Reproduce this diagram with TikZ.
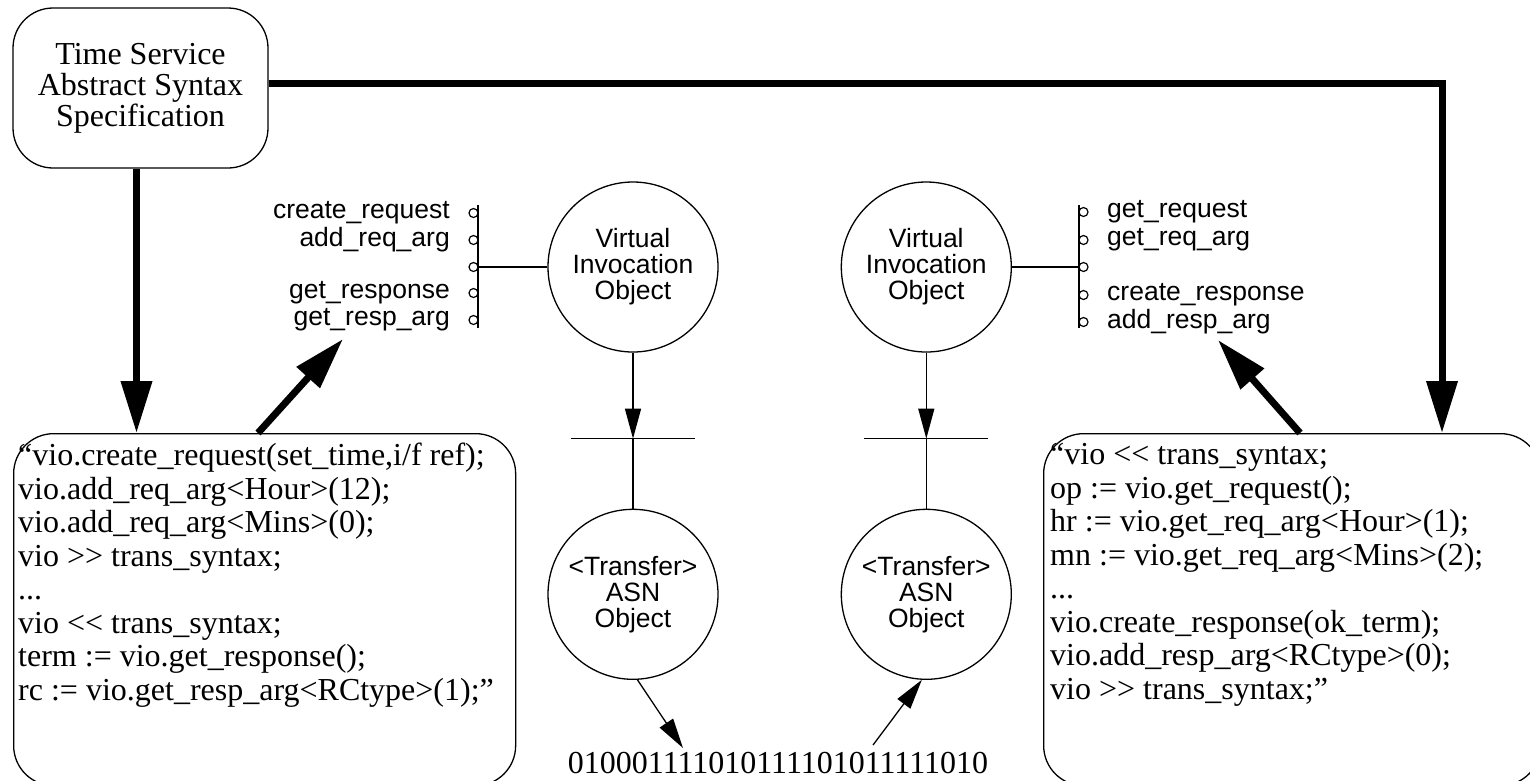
\documentclass[tikz,border=0pt]{standalone}
\usepackage{fontspec}
\usepackage{tikz}
\usetikzlibrary{positioning,arrows.meta}
\newfontfamily\codeserif{Liberation Serif}
\newfontfamily\labelsans{Liberation Sans}

\tikzset{
  wire/.style={line width=1.3pt},
  flow/.style={wire, -{Triangle[length=30pt,width=16pt]}},
  bigflow/.style={line width=7pt, -{Triangle[length=52pt,width=30pt]}},
  roundbox/.style={draw, wire, rounded corners=40pt, inner sep=0pt},
  objcircle/.style={draw, wire, circle, minimum size=170pt, inner sep=0pt, align=center, font=\labelsans\fontsize{26.5}{26}\selectfont},
  port/.style={draw, line width=1.2pt, circle, minimum size=9pt, inner sep=0pt},
  portlabel/.style={inner sep=0pt, font=\labelsans\fontsize{26.5}{26}\selectfont},
  code/.style={inner sep=0pt, align=left, font=\codeserif\fontsize{32}{33.5}\selectfont},
}

\begin{document}
\begin{tikzpicture}[x=1pt,y=-1pt]
\useasboundingbox (0,0) rectangle (1530,780);
\clip (0,0) rectangle (1530,780);

% spec box and the two code boxes
\node[roundbox, minimum width=255pt, minimum height=160pt, align=center, font=\codeserif\fontsize{32}{31}\selectfont] (spec) at (140.5,88) {Time Service\\Abstract Syntax\\Specification};
\node[roundbox, anchor=north west, minimum width=502pt, minimum height=352pt] (boxL) at (13,433) {};
\node[roundbox, anchor=north west, minimum width=497pt, minimum height=352pt] (boxR) at (1043,433) {};

\node[code, anchor=north west] (codeL) at (18,443) {“vio.create\_request(set\_time,i/f ref);\\vio.add\_req\_arg<Hour>(12);\\vio.add\_req\_arg<Mins>(0);\\vio >> trans\_syntax;\\...\\vio << trans\_syntax;\\term := vio.get\_response();\\rc := vio.get\_resp\_arg<RCtype>(1);”};
\node[code, anchor=north west] (codeR) at (1050,443) {“vio << trans\_syntax;\\op := vio.get\_request();\\hr := vio.get\_req\_arg<Hour>(1);\\mn := vio.get\_req\_arg<Mins>(2);\\...\\vio.create\_response(ok\_term);\\vio.add\_resp\_arg<RCtype>(0);\\vio >> trans\_syntax;”};

% invocation and transfer objects
\node[objcircle] (vioL) at (633,267) {Virtual\\Invocation\\Object};
\node[objcircle, right=122pt of vioL] (vioR) {Virtual\\Invocation\\Object};
\coordinate[below=86pt of vioL] (portL);
\coordinate[below=86pt of vioR] (portR);
\node[objcircle, below=70pt of portL] (asnL) {<Transfer>\\ASN\\Object};
\node[objcircle, below=70pt of portR] (asnR) {<Transfer>\\ASN\\Object};

\draw[flow] (vioL) -- (portL);
\draw[flow] (vioR) -- (portR);
\draw[wire] ([xshift=-62pt]portL) -- ([xshift=62pt]portL) (portL) -- (asnL);
\draw[wire] ([xshift=-62pt]portR) -- ([xshift=62pt]portR) (portR) -- (asnR);

% interface stubs
\coordinate (busL) at (478,267);
\coordinate (busR) at (1079,267);
\draw[wire] ([yshift=62pt]busL) -- ([yshift=-61pt]busL) (vioL) -- (busL);
\draw[wire] ([yshift=62pt]busR) -- ([yshift=-61pt]busR) (vioR) -- (busR);
\foreach \y/\txt [count=\i] in {213/create\_request,240/add\_req\_arg,267/{},293/get\_response,320/get\_resp\_arg}{
  \node[port] (inL\i) at (473.5,\y) {};
  \node[portlabel, anchor=east] (labL\i) at (450,\y) {\txt};
}
\foreach \y/\txt [count=\i] in {212/get\_request,240/get\_req\_arg,267/{},295/create\_response,322/add\_resp\_arg}{
  \node[port] (inR\i) at (1083.5,\y) {};
  \node[portlabel, anchor=west] (labR\i) at (1107,\y) {\txt};
}

% the encoded bits
\node[inner sep=0pt, anchor=base, font=\codeserif\fontsize{32}{32}\selectfont] (bits) at (778,773) {010001111010111101011111010};
\coordinate (bitsIn) at (683,748);
\coordinate (bitsOut) at (873,745);
\draw[flow] (asnL.-87) -- (bitsIn);
\draw[flow] (bitsOut) -- (asnR.-93);

% thick arrows
\coordinate (rail) at (1442,83);
\coordinate (hookL) at (343,339);
\coordinate (hookR) at (1218,340);
\draw[bigflow] (spec.east |- rail) -- (rail) -- (rail |- boxR.north);
\draw[bigflow] ([xshift=-4pt]spec.south) -- ([xshift=-4pt]spec.south |- boxL.north);
\draw[bigflow] ([xshift=245pt]boxL.north west) -- (hookL);
\draw[bigflow] ([xshift=257pt]boxR.north west) -- (hookR);
\end{tikzpicture}
\end{document}
